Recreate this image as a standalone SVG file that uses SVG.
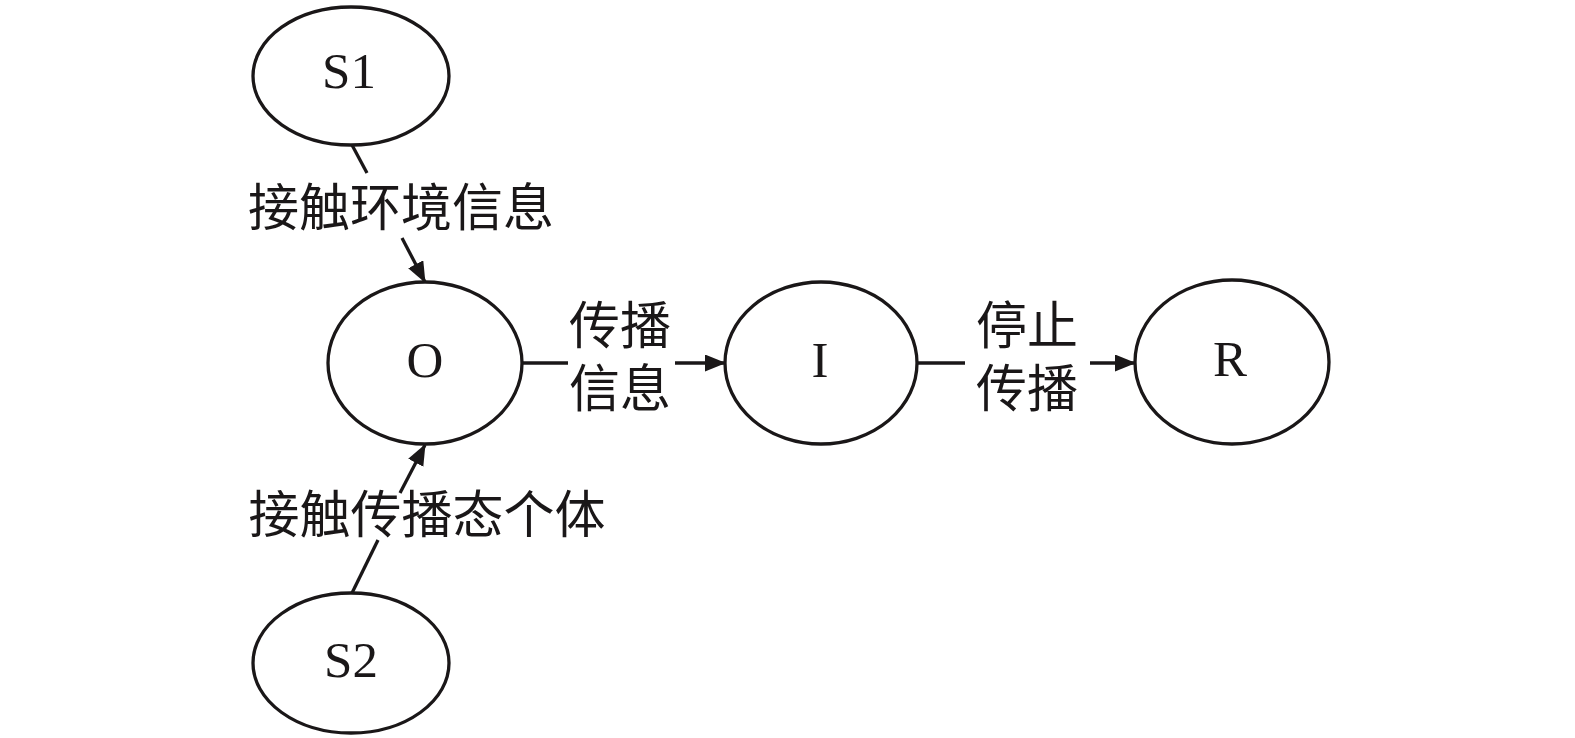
<svg xmlns="http://www.w3.org/2000/svg" width="1575" height="738" viewBox="0 0 1575 738">
<style>
.node{fill:#fff;stroke:#1a1718;stroke-width:3.3}
.lat{font-family:"Liberation Serif","Times New Roman",serif;font-size:51px;fill:#1a1718;text-anchor:middle}
.cjk{font-family:"Liberation Serif","Noto Sans CJK SC",sans-serif;font-size:51px;fill:#1a1718;text-anchor:middle}
.edge{fill:none;stroke:#1a1718;stroke-width:3.3}
</style>
<defs>
<marker id="arr" markerUnits="userSpaceOnUse" markerWidth="22" markerHeight="18" refX="20" refY="8.5" orient="auto">
<path d="M0,0 L21,8.5 L0,17 z" fill="#1a1718"/>
</marker>
</defs>
<rect width="1575" height="738" fill="#fff"/>
<g id="connectors">
<path class="edge" d="M352,145 L367,173"/>
<path class="edge" d="M402,238 L425,282" marker-end="url(#arr)"/>
<path class="edge" d="M352,593 L378,540"/>
<path class="edge" d="M400,493 L425,445" marker-end="url(#arr)"/>
<path class="edge" d="M522,363 L568,363"/>
<path class="edge" d="M675,363 L725,363" marker-end="url(#arr)"/>
<path class="edge" d="M917,363 L965,363"/>
<path class="edge" d="M1090,363 L1135,363" marker-end="url(#arr)"/>
<text class="cjk" x="401" y="226">接触环境信息</text>
<text class="cjk" x="427" y="533">接触传播态个体</text>
<text class="cjk" x="620" y="344">传播</text>
<text class="cjk" x="620" y="407">信息</text>
<text class="cjk" x="1027" y="344">停止</text>
<text class="cjk" x="1027" y="407">传播</text>
</g>
<g id="S1"><ellipse class="node" cx="351" cy="76" rx="98" ry="69"/><text class="lat" x="349" y="88">S1</text></g>
<g id="O"><ellipse class="node" cx="425" cy="363" rx="97" ry="81"/><text class="lat" x="425" y="377">O</text></g>
<g id="I"><ellipse class="node" cx="821" cy="363" rx="96" ry="81"/><text class="lat" x="820" y="377">I</text></g>
<g id="R"><ellipse class="node" cx="1232" cy="362" rx="97" ry="82"/><text class="lat" x="1230" y="376">R</text></g>
<g id="S2"><ellipse class="node" cx="351" cy="663" rx="98" ry="70"/><text class="lat" x="351" y="677">S2</text></g>
</svg>
